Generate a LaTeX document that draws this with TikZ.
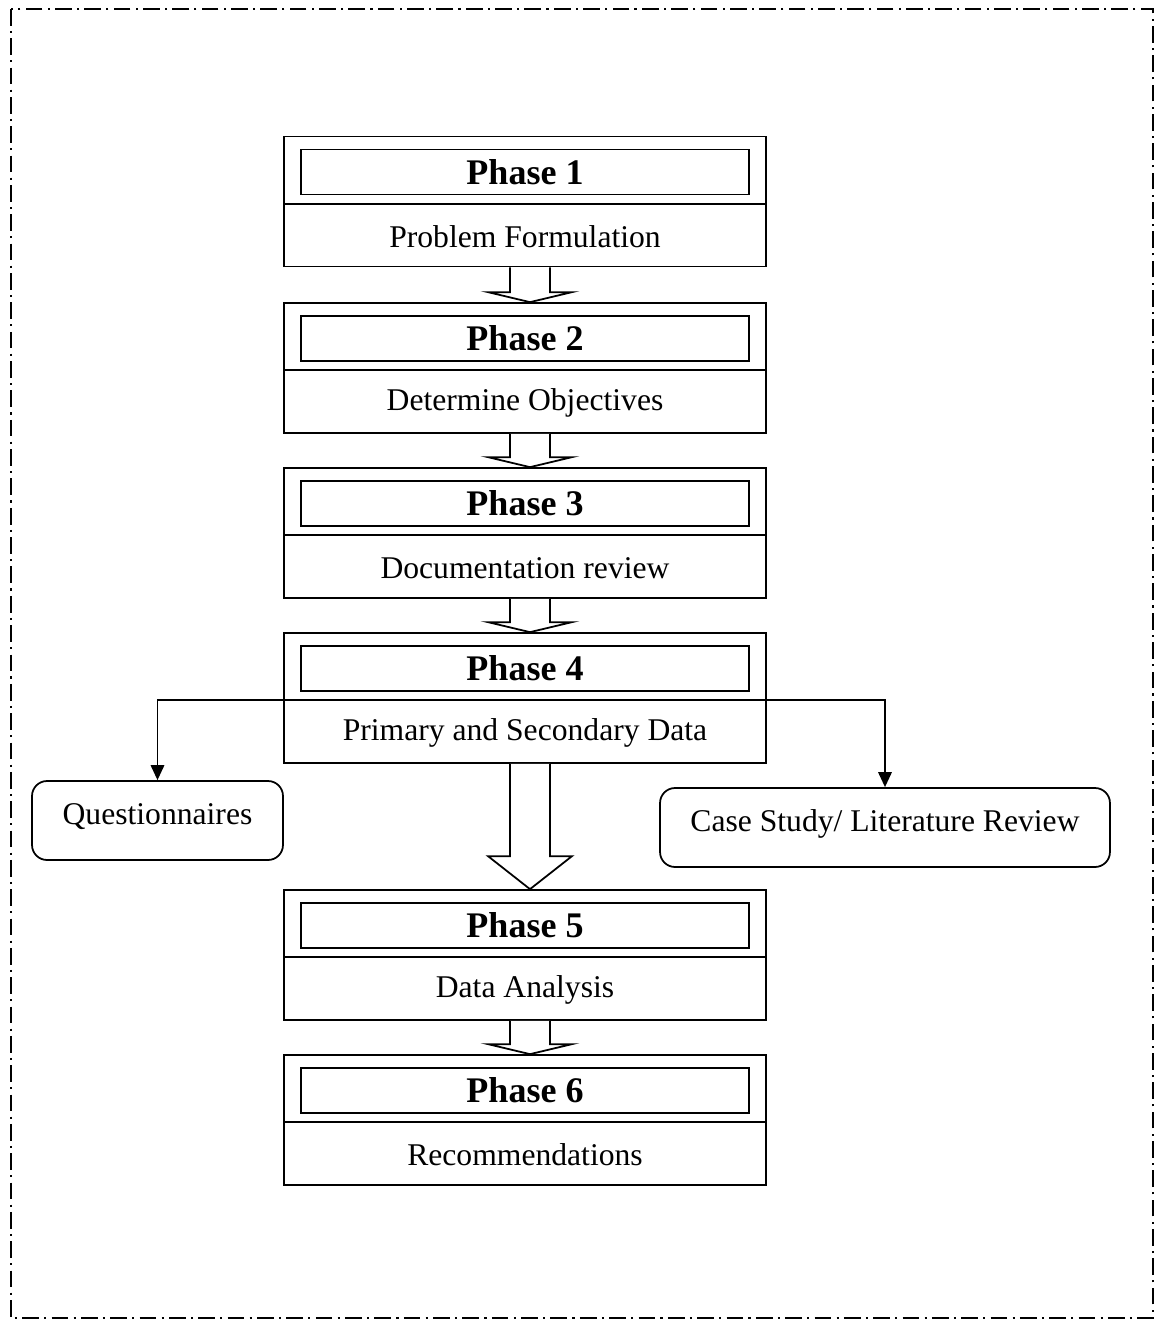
\documentclass[tikz,border=0pt]{standalone}
\usepackage{fontspec}
\setmainfont{Liberation Serif}
\usetikzlibrary{positioning,calc,arrows.meta}

\tikzset{
  phasebox/.style={draw, line width=1pt, minimum width=9.64cm, minimum height=2.6cm, inner sep=0pt},
  titlebox/.style={draw, line width=1pt, minimum width=8.96cm, minimum height=0.9cm, inner sep=0pt,
    font=\fontsize{20.5}{24}\selectfont\bfseries},
  desc/.style={font=\fontsize{18}{22}\selectfont},
  sidebox/.style={draw, line width=1pt, rounded corners=0.3cm, inner sep=0pt,
    minimum height=1.58cm, text height=12pt, text depth=8pt, font=\fontsize{18}{22}\selectfont},
  hollow/.style={draw, line width=1pt, fill=white},
  branch/.style={line width=1pt, -{Triangle[length=0.3cm, width=0.27cm]}},
  border/.style={line width=1.6pt, dash pattern=on 9.5pt off 3pt on 1.2pt off 3pt}
}

% open arrow between two phases: from, to, head length
\newcommand{\hollowarrow}[3]{%
  \draw[hollow] ($(#1.south)+(-15,0)$) -- ($(#2.north)+(-15,-#3)$) -- ++(-22,0)
    -- ($(#2.north)+(5,0)$) -- ($(#2.north)+(47,-#3)$) -- ++(-22,0)
    -- ($(#1.south)+(25,0)$);}

\begin{document}
\begin{tikzpicture}[x=0.02cm, y=-0.02cm]
\useasboundingbox (0,0) rectangle (1161,1320);
\draw[border] (11,9) rectangle (1153,1318);

\foreach \i/\y/\txt in {1/201.5/Problem Formulation, 2/368/Determine Objectives,
    3/533/Documentation review, 4/698/Primary and Secondary Data,
    5/955/Data Analysis, 6/1120/Recommendations} {
  \node[phasebox] (p\i) at (525, \y) {};
  \node[titlebox, below=0.26cm of p\i.north] (t\i) {Phase \i};
  \draw[line width=1pt] ($(p\i.north west)+(0,68)$) -- ($(p\i.north east)+(0,68)$);
  \node[desc] (d\i) at ($(p\i.south)+(0,-31)$) {\txt};
}

\hollowarrow{p1}{p2}{10}
\hollowarrow{p2}{p3}{10}
\hollowarrow{p3}{p4}{10}
\hollowarrow{p4}{p5}{33}
\hollowarrow{p5}{p6}{10}

\node[sidebox, minimum width=5.02cm] (quest) at (157.5, 820.5) {Questionnaires};
\node[sidebox, minimum width=9cm] (case) at (885, 827.5) {Case Study/ Literature Review};

\draw[branch] ($(p4.north west)+(0,68)$) -| (quest.north);
\draw[branch] ($(p4.north east)+(0,68)$) -| (case.north);

\end{tikzpicture}
\end{document}
